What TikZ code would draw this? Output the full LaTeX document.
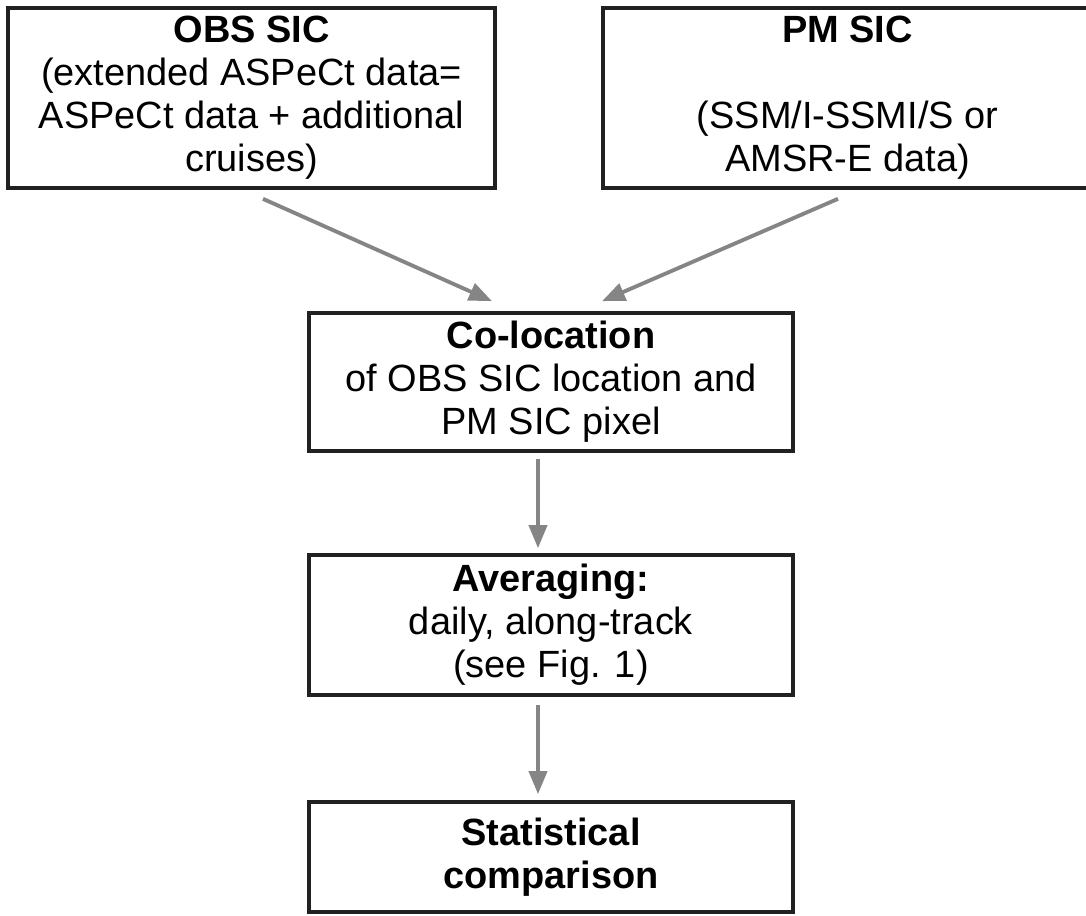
\documentclass[tikz,border=0pt]{standalone}
\usepackage{fontspec}
\setmainfont{Liberation Sans}
\usetikzlibrary{arrows.meta}

\begin{document}
\begin{tikzpicture}[x=0.02cm,y=-0.02cm,
        box/.style={draw=black!87,line width=2.1pt,align=center,inner sep=0pt,
            font=\fontsize{21.6}{24.5}\selectfont},
        flow/.style={draw=black!48,line width=2.2pt,
            -{Triangle[length=0.46cm,width=0.36cm]}}]
                \useasboundingbox (0,0) rectangle (1086,916);
                \node[box,minimum width=9.74cm,minimum height=3.6cm] (obs) at (251.5,98)
                    {\textbf{OBS SIC}\\(extended ASPeCt data=\\ASPeCt data + additional\\cruises)};
                \node[box,minimum width=9.78cm,minimum height=3.6cm] (pm) at (847.5,98)
                    {\textbf{PM SIC}\\[24.5pt](SSM/I-SSMI/S or\\AMSR-E data)};
                \node[box,minimum width=9.68cm,minimum height=2.76cm] (coloc) at (551,382)
                    {\textbf{Co-location}\\of OBS SIC location and\\PM SIC pixel};
                \node[box,minimum width=9.68cm,minimum height=2.8cm] (avg) at (551,625)
                    {\textbf{Averaging:}\\daily, along-track\\(see Fig. 1)};
                \node[box,minimum width=9.68cm,minimum height=2.2cm] (stat) at (551,857)
                    {\textbf{Statistical}\\\textbf{comparison}};
                \draw[flow]([xshift=0.23cm,yshift=-0.18cm]obs.south)--([xshift=-1.18cm,yshift=0.2cm]coloc.north);
                \draw[flow]([xshift=-0.19cm,yshift=-0.18cm]pm.south)--([xshift=1.02cm,yshift=0.2cm]coloc.north);
                \draw[flow]([xshift=-0.26cm,yshift=-0.12cm]coloc.south)--([xshift=-0.26cm,yshift=0.1cm]avg.north);
                \draw[flow]([xshift=-0.26cm,yshift=-0.16cm]avg.south)--([xshift=-0.26cm,yshift=0.12cm]stat.north);
            \end{tikzpicture}
\end{document}
